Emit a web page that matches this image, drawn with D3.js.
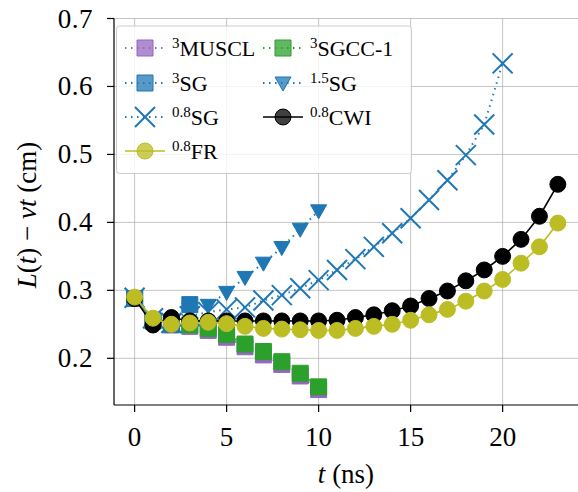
<!DOCTYPE html>
<html><head><meta charset="utf-8">
<script src="https://cdn.jsdelivr.net/npm/d3@7"></script>
<style>body{margin:0;background:#fff}svg{display:block}</style>
</head><body>
<svg id="c" width="578" height="492"></svg>
<script>
// ---- data ----
const tShort = [0,1,2,3,4,5,6,7,8,9,10];
const tSG3 = [0,1,2,3];
const tSG08 = [0,1,2,3,4,5,6,7,8,9,10,11,12,13,14,15,16,17,18,19,20];
const tLong = [0,1,2,3,4,5,6,7,8,9,10,11,12,13,14,15,16,17,18,19,20,21,22,23];
const muscl = [0.288,0.255,0.249,0.247,0.241,0.231,0.217,0.205,0.191,0.174,0.154];
const sgcc1 = [0.288,0.255,0.250,0.249,0.244,0.235,0.221,0.210,0.195,0.178,0.158];
const sg3   = [0.288,0.256,0.250,0.279];
const sg15  = [0.288,0.256,0.252,0.272,0.278,0.297,0.319,0.340,0.363,0.390,0.417];
const sg08  = [0.289,0.259,0.252,0.262,0.268,0.272,0.275,0.285,0.293,0.303,0.315,0.330,0.346,0.364,0.384,0.406,0.433,0.462,0.499,0.544,0.634];
const cwi   = [0.288,0.249,0.260,0.255,0.255,0.255,0.255,0.255,0.255,0.255,0.255,0.256,0.260,0.264,0.270,0.277,0.288,0.299,0.314,0.330,0.350,0.375,0.409,0.456];
const fr    = [0.290,0.259,0.250,0.252,0.253,0.251,0.247,0.244,0.243,0.242,0.241,0.241,0.244,0.247,0.250,0.256,0.264,0.272,0.284,0.299,0.316,0.340,0.364,0.399];
const xTicks = [0,5,10,15,20];
const yTicks = [0.2,0.3,0.4,0.5,0.6,0.7];

const series = [
  {sup:"3",   name:"MUSCL",  t:tShort, v:muscl, color:"#9467bd", marker:"square", dash:"dot"},
  {sup:"3",   name:"SGCC-1", t:tShort, v:sgcc1, color:"#2ca02c", marker:"square", dash:"dot"},
  {sup:"1.5", name:"SG",     t:tShort, v:sg15,  color:"#1f77b4", marker:"tri",    dash:"dot"},
  {sup:"0.8", name:"SG",     t:tSG08,  v:sg08,  color:"#1f77b4", marker:"x",      dash:"dot"},
  {sup:"3",   name:"SG",     t:tSG3,   v:sg3,   color:"#1f77b4", marker:"square", dash:"dot"},
  {sup:"0.8", name:"CWI",    t:tLong,  v:cwi,   color:"#000000", marker:"circle", dash:"solid"},
  {sup:"0.8", name:"FR",     t:tLong,  v:fr,    color:"#bcbd22", marker:"circle", dash:"solid"}
];
// legend order (column-major)
const legendCols = [["MUSCL3","SG3","SG0.8","FR0.8"],["SGCC-13","SG1.5","CWI0.8"]];

const W=578,H=492, L=114, T=18.5, R=579, B=405;
const FONT = "'Liberation Serif','DejaVu Serif',serif";
const svg = d3.select("#c");
const x = d3.scaleLinear().domain([-1.12,24.15]).range([L,R]);
const y = d3.scaleLinear().domain([0.1313,0.7]).range([B,T]);

// grid
const g = svg.append("g");
g.selectAll(".gx").data(xTicks).join("line").attr("x1",d=>x(d)).attr("x2",d=>x(d))
 .attr("y1",T).attr("y2",B).attr("stroke","#b0b0b0").attr("stroke-width",1).attr("stroke-opacity",0.75);
g.selectAll(".gy").data(yTicks).join("line").attr("y1",d=>y(d)).attr("y2",d=>y(d))
 .attr("x1",L).attr("x2",R).attr("stroke","#b0b0b0").attr("stroke-width",1).attr("stroke-opacity",0.75);

svg.append("defs").append("clipPath").attr("id","clip").append("rect")
  .attr("x",L).attr("y",T-10).attr("width",R-L).attr("height",B-T+10);
const plot = svg.append("g").attr("clip-path","url(#clip)");

function markerPath(type){
  if(type==="square") return d3.symbol(d3.symbolSquare, 256)();
  if(type==="circle") return d3.symbol(d3.symbolCircle, 200)();
  if(type==="tri") return "M-8,-6L8,-6L0,8Z";
  if(type==="x") return "M-10,-10L10,10M-10,10L10,-10";
}
function drawMarker(sel, s, opacity){
  if(s.marker==="x"){
    sel.append("path").attr("d",markerPath("x")).attr("fill","none")
      .attr("stroke",s.color).attr("stroke-width",2);
  } else {
    sel.append("path").attr("d",markerPath(s.marker)).attr("fill",s.color)
      .attr("fill-opacity",opacity).attr("stroke",s.color).attr("stroke-width",1);
  }
}
const line = d3.line().x(d=>x(d[0])).y(d=>y(d[1]));
series.forEach(s=>{
  const pts = s.t.map((t,i)=>[t,s.v[i]]);
  plot.append("path").datum(pts).attr("d",line).attr("fill","none")
    .attr("stroke",s.color).attr("stroke-width",s.dash==="solid"?1.6:2)
    .attr("stroke-dasharray",s.dash==="solid"?null:"1.5,4.5");
  const mg = plot.append("g");
  pts.forEach(p=>{
    const m = mg.append("g").attr("transform",`translate(${x(p[0])},${y(p[1])})`);
    drawMarker(m,s,1);
  });
});

// axes
const ax = svg.append("g").attr("font-family",FONT);
ax.append("line").attr("x1",L).attr("x2",L).attr("y1",T).attr("y2",B).attr("stroke","#000").attr("stroke-width",1.2);
ax.append("line").attr("x1",L).attr("x2",R).attr("y1",B).attr("y2",B).attr("stroke","#000").attr("stroke-width",1.2);
xTicks.forEach(d=>{
  ax.append("line").attr("x1",x(d)).attr("x2",x(d)).attr("y1",B).attr("y2",B+7).attr("stroke","#000").attr("stroke-width",1.2);
  ax.append("text").attr("x",x(d)).attr("y",446).attr("text-anchor","middle").attr("font-size",27).text(d);
});
yTicks.forEach(d=>{
  ax.append("line").attr("x1",L-7).attr("x2",L).attr("y1",y(d)).attr("y2",y(d)).attr("stroke","#000").attr("stroke-width",1.2);
  ax.append("text").attr("x",93).attr("y",y(d)+9).attr("text-anchor","end").attr("font-size",27)
    .attr("letter-spacing",0.5).text(d3.format(".1f")(d));
});
// x label
const xl = ax.append("text").attr("x",346).attr("y",483).attr("text-anchor","middle").attr("font-size",27);
xl.append("tspan").attr("font-style","italic").text("t");
xl.append("tspan").text(" (ns)");
// y label
const yl = ax.append("text").attr("transform","translate(36,215) rotate(-90)").attr("text-anchor","middle").attr("font-size",27);
yl.append("tspan").attr("font-style","italic").text("L");
yl.append("tspan").text("(");
yl.append("tspan").attr("font-style","italic").text("t");
yl.append("tspan").text(") − ");
yl.append("tspan").attr("font-style","italic").text("νt");
yl.append("tspan").text(" (cm)");

// legend
const lg = svg.append("g").attr("font-family",FONT);
lg.append("rect").attr("x",116.5).attr("y",26).attr("width",295).attr("height",147.5).attr("rx",3)
  .attr("fill","#fff").attr("fill-opacity",0.8).attr("stroke","#cccccc").attr("stroke-width",1);
const rowsY = [48,83,117,151];
const colX = [[125,165,172],[263,303,310]];
const byKey = {};
series.forEach(s=>byKey[s.name+s.sup]=s);
legendCols.forEach((col,ci)=>{
  col.forEach((k,ri)=>{
    const s = byKey[k];
    const [x1,x2,tx] = colX[ci];
    const cy = rowsY[ri];
    lg.append("line").attr("x1",x1).attr("x2",x2).attr("y1",cy).attr("y2",cy)
      .attr("stroke",s.color).attr("stroke-width",s.dash==="solid"?1.6:2)
      .attr("stroke-dasharray",s.dash==="solid"?null:"1.5,4.5");
    const m = lg.append("g").attr("transform",`translate(${(x1+x2)/2},${cy})`);
    drawMarker(m,s,0.75);
    const tt = lg.append("text").attr("x",tx).attr("y",cy+8).attr("font-size",22);
    tt.append("tspan").attr("font-size",15).attr("dy",-8).text(s.sup);
    tt.append("tspan").attr("dy",8).text(s.name);
  });
});
</script>
</body></html>
